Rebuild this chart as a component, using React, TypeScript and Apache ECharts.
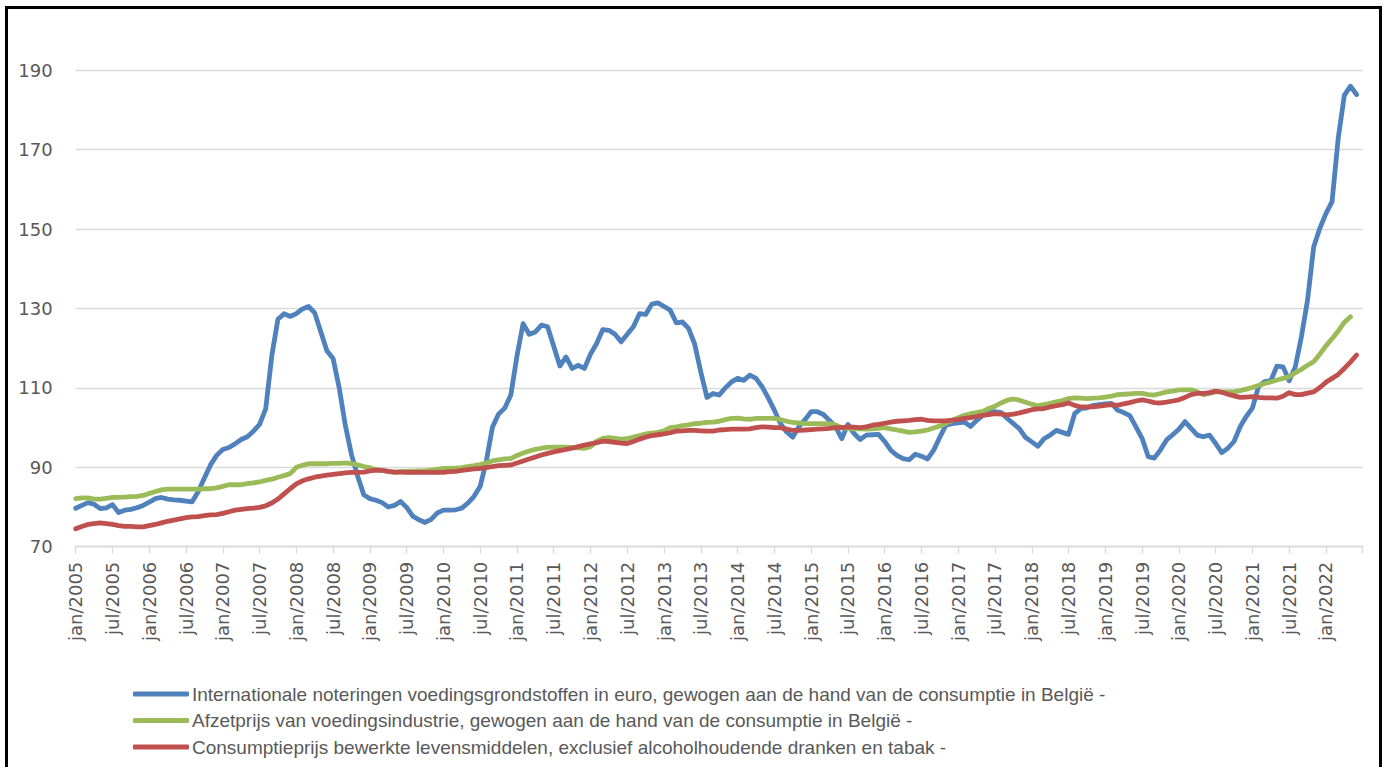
import React, { useEffect, useRef } from "react";
import * as echarts from "echarts";

const MONTHS = ["jan", "feb", "mrt", "apr", "mei", "jun", "jul", "aug", "sep", "okt", "nov", "dec"];
const START_YEAR = 2005;
const N_CATEGORIES = 211; // jan/2005 .. jul/2022

const categories: string[] = [];
for (let i = 0; i < N_CATEGORIES; i++) {
  categories.push(MONTHS[i % 12] + "/" + (START_YEAR + Math.floor(i / 12)));
}

const SERIES_NAMES = [
  "Internationale noteringen voedingsgrondstoffen in euro, gewogen aan de hand van de consumptie in België -",
  "Afzetprijs van voedingsindustrie, gewogen aan de hand van de consumptie in België -",
  "Consumptieprijs bewerkte levensmiddelen, exclusief alcoholhoudende dranken en tabak -",
];

const internationaleNoteringen = [
  79.7, 80.4, 81.1, 80.7, 79.6, 79.8, 80.6, 78.6, 79.2, 79.4, 79.8, 80.4,
  81.2, 82.1, 82.4, 82.0, 81.8, 81.7, 81.5, 81.3, 83.9, 87.3, 90.6, 93.0,
  94.5, 95.0, 95.9, 97.0, 97.7, 99.1, 100.8, 104.7, 118.1, 127.3, 128.7, 128.0,
  128.7, 129.9, 130.5, 128.9, 124.1, 119.3, 117.4, 110.0, 100.5, 93.2, 87.8, 83.1,
  82.1, 81.7, 81.1, 80.0, 80.4, 81.4, 79.9, 77.7, 76.8, 76.1, 76.9, 78.5,
  79.2, 79.2, 79.3, 79.7, 81.0, 82.7, 85.2, 91.6, 100.1, 103.4, 104.9, 108.2,
  118.0, 126.2, 123.5, 124.1, 125.8, 125.4, 120.5, 115.5, 117.8, 114.9, 115.7, 114.9,
  118.5, 121.2, 124.7, 124.5, 123.5, 121.6, 123.5, 125.4, 128.7, 128.5, 131.1, 131.4,
  130.5, 129.6, 126.4, 126.6, 125.0, 121.0, 114.0, 107.6, 108.6, 108.2, 110.0, 111.5,
  112.4, 111.9, 113.2, 112.4, 110.3, 107.5, 104.4, 101.0, 98.9, 97.6, 100.2, 102.0,
  104.0, 104.0, 103.3, 101.8, 100.2, 97.2, 100.8, 98.5, 97.0, 98.1, 98.2, 98.3,
  96.5, 94.3, 93.0, 92.2, 91.9, 93.3, 92.8, 92.1, 94.3, 97.6, 100.6, 101.0,
  101.2, 101.4, 100.3, 101.8, 103.1, 104.0, 104.0, 103.8, 102.3, 101.0, 99.7, 97.5,
  96.4, 95.3, 97.2, 98.1, 99.3, 98.8, 98.3, 103.5, 104.8, 105.0, 105.6, 105.8,
  106.0, 106.1, 104.4, 103.8, 103.0, 100.2, 97.3, 92.7, 92.3, 94.4, 96.9, 98.2,
  99.6, 101.5, 99.8, 98.1, 97.7, 98.1, 96.0, 93.7, 94.8, 96.5, 100.2, 102.8,
  104.9, 110.3, 111.6, 111.8, 115.5, 115.3, 111.8, 115.3, 122.9, 132.1, 145.5, 150.2,
  153.9, 156.9, 172.8, 183.7, 186.0, 183.9,
];

const afzetprijsVoedingsindustrie = [
  82.1, 82.3, 82.3, 82.0, 82.0, 82.2, 82.4, 82.4, 82.5, 82.6, 82.7, 82.9,
  83.4, 83.9, 84.3, 84.5, 84.5, 84.5, 84.5, 84.5, 84.5, 84.6, 84.6, 84.8,
  85.2, 85.6, 85.6, 85.6, 85.9, 86.1, 86.3, 86.7, 87.0, 87.5, 87.9, 88.4,
  90.0, 90.5, 90.9, 90.9, 90.9, 90.9, 91.0, 91.0, 91.1, 90.9, 90.6, 90.2,
  89.9, 89.4, 89.2, 89.0, 88.7, 88.9, 89.0, 89.0, 89.1, 89.1, 89.3, 89.5,
  89.7, 89.7, 89.8, 89.9, 90.2, 90.4, 90.7, 91.1, 91.6, 91.9, 92.1, 92.2,
  93.0, 93.6, 94.1, 94.5, 94.8, 95.0, 95.1, 95.1, 95.1, 95.0, 94.9, 94.8,
  95.2, 96.6, 97.3, 97.5, 97.3, 97.1, 97.2, 97.6, 98.0, 98.4, 98.6, 98.8,
  99.2, 100.0, 100.2, 100.5, 100.7, 101.0, 101.1, 101.3, 101.4, 101.6, 102.0, 102.3,
  102.4, 102.2, 102.1, 102.3, 102.3, 102.3, 102.3, 102.0, 101.6, 101.3, 101.2, 101.0,
  101.0, 101.0, 101.0, 101.0, 100.7, 100.0, 99.8, 99.7, 99.7, 99.6, 99.7, 99.8,
  100.0, 99.7, 99.4, 99.1, 98.8, 98.9, 99.1, 99.4, 99.9, 100.4, 101.1, 101.8,
  102.5, 103.1, 103.5, 103.8, 104.1, 104.8, 105.4, 106.2, 106.9, 107.2, 106.9, 106.4,
  105.9, 105.5, 105.8, 106.1, 106.5, 106.8, 107.3, 107.5, 107.4, 107.3, 107.4, 107.5,
  107.7, 107.9, 108.3, 108.4, 108.5, 108.6, 108.6, 108.3, 108.2, 108.6, 109.0, 109.2,
  109.5, 109.5, 109.5, 109.0, 108.3, 108.6, 109.0, 109.0, 109.0, 109.0, 109.3, 109.7,
  110.1, 110.6, 111.1, 111.5, 112.0, 112.4, 112.8, 113.8, 114.7, 115.7, 116.6, 118.5,
  120.6, 122.4, 124.3, 126.5, 127.9,
];

const consumptieprijsLevensmiddelen = [
  74.5, 75.1, 75.6, 75.8, 76.0, 75.8, 75.6, 75.3, 75.1, 75.1, 75.0, 75.0,
  75.3, 75.6, 76.0, 76.4, 76.7, 77.0, 77.3, 77.5, 77.6, 77.8, 78.0, 78.1,
  78.4, 78.8, 79.2, 79.4, 79.6, 79.7, 79.9, 80.3, 81.0, 82.0, 83.3, 84.6,
  85.8, 86.6, 87.1, 87.5, 87.8, 88.0, 88.2, 88.4, 88.6, 88.7, 88.7, 88.8,
  89.1, 89.3, 89.2, 89.0, 88.8, 88.8, 88.7, 88.7, 88.7, 88.7, 88.7, 88.7,
  88.7, 88.9, 89.0, 89.2, 89.4, 89.6, 89.7, 89.9, 90.2, 90.4, 90.5, 90.6,
  91.1, 91.6, 92.1, 92.6, 93.1, 93.5, 93.9, 94.2, 94.5, 94.8, 95.2, 95.6,
  95.9, 96.2, 96.6, 96.5, 96.3, 96.1, 96.0, 96.5, 97.1, 97.6, 98.0, 98.2,
  98.4, 98.7, 99.1, 99.2, 99.3, 99.3, 99.2, 99.1, 99.1, 99.4, 99.5, 99.6,
  99.6, 99.6, 99.7, 100.0, 100.2, 100.1, 100.0, 100.0, 99.6, 99.3, 99.3, 99.4,
  99.5, 99.6, 99.7, 99.8, 100.0, 100.0, 100.2, 100.1, 100.0, 100.2, 100.6, 100.8,
  101.1, 101.4, 101.6, 101.7, 101.8, 102.0, 102.1, 101.8, 101.7, 101.7, 101.7, 101.9,
  102.0, 102.3, 102.5, 102.8, 103.1, 103.3, 103.5, 103.4, 103.2, 103.4, 103.7, 104.1,
  104.5, 104.7, 104.8, 105.2, 105.5, 105.8, 106.2, 105.6, 105.2, 105.2, 105.2, 105.4,
  105.6, 105.8, 105.6, 106.0, 106.3, 106.7, 107.0, 106.7, 106.3, 106.2, 106.4, 106.7,
  107.0, 107.6, 108.3, 108.6, 108.6, 108.8, 109.2, 108.9, 108.4, 108.0, 107.6, 107.7,
  107.8, 107.6, 107.5, 107.5, 107.4, 107.9, 108.8, 108.3, 108.3, 108.7, 109.0, 110.1,
  111.4, 112.4, 113.4, 114.9, 116.5, 118.3,
];

const Y_MIN = 70;
const Y_MAX = 190;
const Y_INTERVAL = 20;

const COLORS = ["#4F81BD", "#9BBB59", "#C0504D"];

export default function App() {
  const ref = useRef<HTMLDivElement>(null);

  useEffect(() => {
    if (!ref.current) return;
    const chart = echarts.init(ref.current, undefined, { renderer: "svg" });
    const data = [internationaleNoteringen, afzetprijsVoedingsindustrie, consumptieprijsLevensmiddelen];
    chart.setOption({
      animation: false,
      backgroundColor: "#ffffff",
      grid: { left: 75.7, right: 24.3, top: 70.3, bottom: 220.3, containLabel: false },
      legend: {
        orient: "vertical",
        left: 128,
        top: 679,
        icon: "roundRect",
        itemWidth: 56,
        itemHeight: 5,
        itemGap: 6.5,
        data: SERIES_NAMES,
        textStyle: {
          fontFamily: "Liberation Sans",
          fontSize: 19,
          color: "#595959",
          lineHeight: 20,
          padding: [0, 0, 0, -2],
        },
      },
      xAxis: {
        type: "category",
        boundaryGap: false,
        data: categories,
        axisLine: { lineStyle: { color: "#D9D9D9", width: 1.3 } },
        axisTick: {
          show: true,
          length: 7,
          interval: (index: number) => index % 6 === 0,
          lineStyle: { color: "#D9D9D9", width: 1.3 },
        },
        axisLabel: {
          interval: (index: number) => index % 6 === 0 && index < 210,
          rotate: 90,
          margin: 15,
          fontFamily: "DejaVu Sans",
          fontSize: 18,
          color: "#595959",
        },
        splitLine: { show: false },
      },
      yAxis: {
        type: "value",
        min: Y_MIN,
        max: Y_MAX,
        interval: Y_INTERVAL,
        axisLine: { show: false },
        axisTick: { show: false },
        axisLabel: {
          margin: 23,
          fontFamily: "DejaVu Sans",
          fontSize: 18,
          color: "#595959",
        },
        splitLine: { lineStyle: { color: "#D9D9D9", width: 1.3 } },
      },
      series: SERIES_NAMES.map((name, i) => ({
        name,
        type: "line",
        data: data[i],
        showSymbol: false,
        symbol: "none",
        smooth: false,
        color: COLORS[i],
        lineStyle: { width: 4.8, color: COLORS[i], cap: "round", join: "round" },
        emphasis: { disabled: true },
      })),
    });
    return () => chart.dispose();
  }, []);

  return (
    <div style={{ position: "absolute", left: 0, top: 0, width: 1387, height: 767, background: "#fff", overflow: "hidden" }}>
      <div ref={ref} style={{ position: "absolute", left: 0, top: 0, width: 1387, height: 767 }} />
      <div
        style={{
          position: "absolute",
          left: 5,
          top: 6,
          width: 1377,
          height: 800,
          border: "3px solid #000",
          boxSizing: "border-box",
          pointerEvents: "none",
        }}
      />
    </div>
  );
}
